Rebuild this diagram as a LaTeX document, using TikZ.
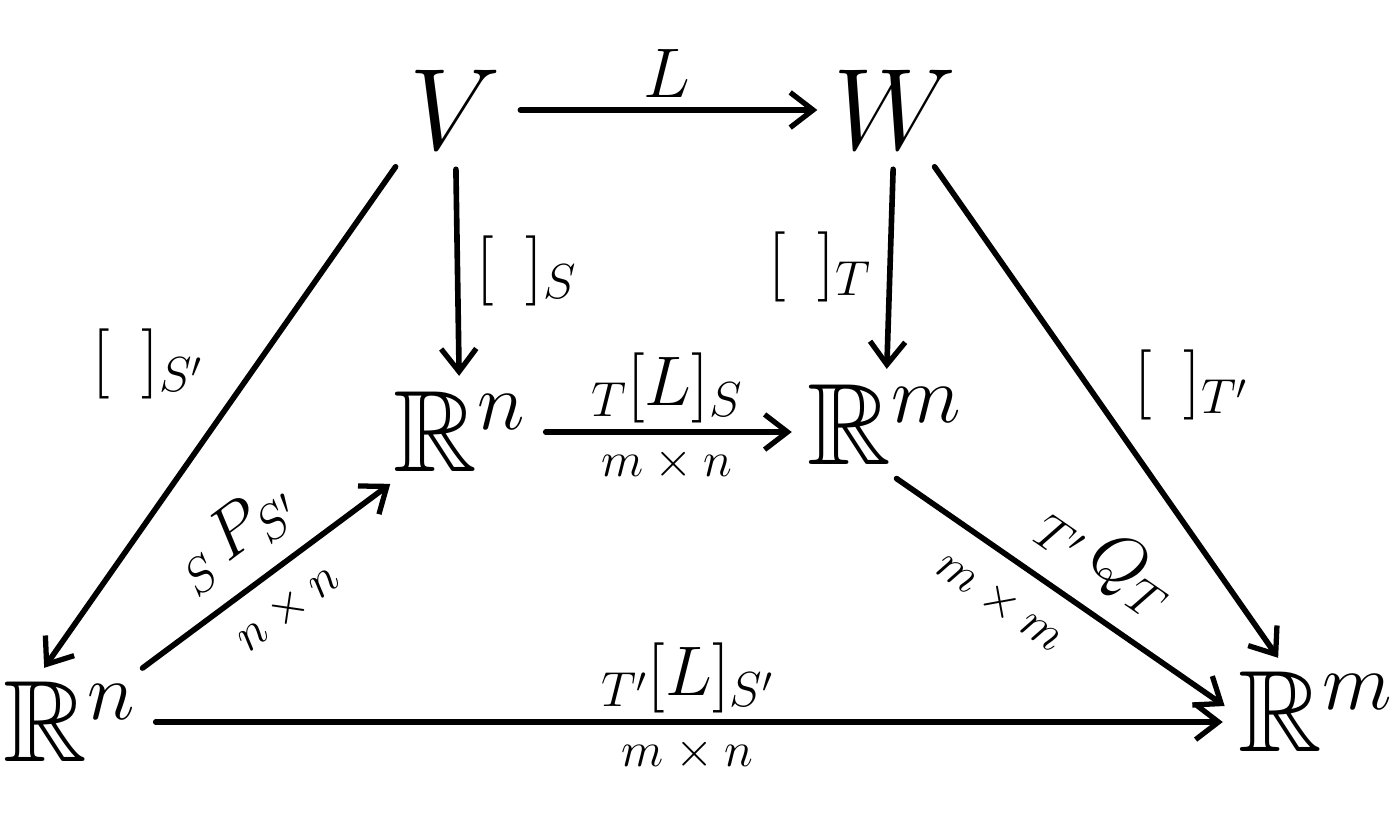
\RequirePackage{fix-cm}
\documentclass[tikz,border=0pt]{standalone}
\usepackage{amsmath,amssymb}
\usepackage{tikz}
\usetikzlibrary{arrows.meta,positioning}

\tikzset{
  space/.style={inner sep=3pt,font=\fontsize{66}{72}\selectfont},
  map/.style={line width=3.2pt,line cap=round,
    -{Straight Barb[length=13pt,width=20pt,line width=3pt]},
    shorten <=8pt,shorten >=6pt},
  lbl/.style={font=\fontsize{40}{46}\selectfont},
  dimlbl/.style={font=\fontsize{28}{32}\selectfont},
}

\begin{document}
\begin{tikzpicture}[x=0.02cm,y=-0.02cm]
  \useasboundingbox (0,0) rectangle (1396,818);
  % spaces
  \node[space] (V)   at (455,110) {$V$};
  \node[space] (W)   at (895,110) {$W$};
  \node[space] (Rn)  at (460,432) {$\mathbb{R}^n$};
  \node[space] (Rm)  at (885,425) {$\mathbb{R}^m$};
  \node[space] (Rn2) at (70,722)  {$\mathbb{R}^n$};
  \node[space] (Rm2) at (1316,712) {$\mathbb{R}^m$};
  % maps
  \draw[map] (V) -- (W) node[lbl,midway,above=2pt] {$L$};
  \draw[map] (V) -- (Rn) node[lbl,midway,right=6pt] {$[\;\,]_S$};
  \draw[map] (W) -- (Rm) node[lbl,midway,left=6pt] {$[\;\,]_T$};
  \draw[map] (V.south west) -- (Rn2.125)
    node[lbl,pos=0.4,left=26pt] {$[\;\,]_{S'}$};
  \draw[map] (W) -- (Rm2) node[lbl,pos=0.45,right=22pt] {$[\;\,]_{T'}$};
  \draw[map] (Rn.east) -- (Rn.east -| Rm.west)
    node[lbl,midway,above=0pt] {${}_T[L]_S$}
    node[dimlbl,midway,below=4pt] {$m\times n$};
  \draw[map] (Rn2) -- (Rn)
    node[lbl,midway,sloped,above=8pt] {${}_S\,P_{S'}$}
    node[dimlbl,midway,sloped,below=8pt] {$n\times n$};
  \draw[map] (Rm.south) -- (Rm2.west)
    node[lbl,pos=0.55,sloped,above=8pt] {${}_{T'}\,Q_T$}
    node[dimlbl,pos=0.4,sloped,below=10pt] {$m\times m$};
  \draw[map] (Rn2.east) -- (Rn2.east -| Rm2.west)
    node[lbl,midway,above=0pt] {${}_{T'}[L]_{S'}$}
    node[dimlbl,midway,below=4pt] {$m\times n$};
\end{tikzpicture}
\end{document}
